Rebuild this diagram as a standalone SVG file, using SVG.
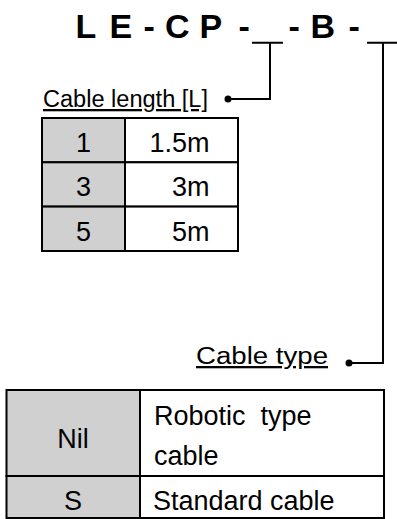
<svg xmlns="http://www.w3.org/2000/svg" width="397" height="519" viewBox="0 0 397 519">
<style>
.t{font-family:"Liberation Sans",Arial,sans-serif;fill:#000}
.title{font-size:34px;font-weight:bold}
.lbl{font-size:23px;text-decoration:underline}
.cell{font-size:27px}
.ln{stroke:#000;stroke-width:2;fill:none}
.key{fill:#d0d0d0;stroke:#000;stroke-width:2}
.val{fill:#fff;stroke:#000;stroke-width:2}
</style>
<rect width="397" height="519" fill="#fff"/>
<g id="title">
<text class="t title" y="38"><tspan x="75.5">L</tspan><tspan x="109.5">E</tspan><tspan x="143.5">-</tspan><tspan x="165">C</tspan><tspan x="199.5">P</tspan><tspan x="238.5">-</tspan><tspan x="288.5">-</tspan><tspan x="310.5">B</tspan><tspan x="348.5">-</tspan></text>
</g>
<g id="connectors">
<path class="ln" d="M252 42.7H283M270 42.7V99H228"/>
<circle cx="228" cy="99" r="3.5"/>
<path class="ln" d="M367 42.7H397M383 42.7V363H349"/>
<circle cx="349" cy="363" r="3.5"/>
</g>
<g id="cable-length">
<text class="t lbl" x="43" y="107" textLength="165" lengthAdjust="spacingAndGlyphs">Cable length [L]</text>
<rect class="key" x="42" y="118" width="83" height="44.3"/>
<rect class="val" x="125" y="118" width="113" height="44.3"/>
<rect class="key" x="42" y="162.3" width="83" height="44.3"/>
<rect class="val" x="125" y="162.3" width="113" height="44.3"/>
<rect class="key" x="42" y="206.6" width="83" height="44.4"/>
<rect class="val" x="125" y="206.6" width="113" height="44.4"/>
<text class="t cell" x="83.5" y="152" text-anchor="middle">1</text>
<text class="t cell" x="209.5" y="152" text-anchor="end">1.5m</text>
<text class="t cell" x="83.5" y="196.3" text-anchor="middle">3</text>
<text class="t cell" x="209.5" y="196.3" text-anchor="end">3m</text>
<text class="t cell" x="83.5" y="240.6" text-anchor="middle">5</text>
<text class="t cell" x="209.5" y="240.6" text-anchor="end">5m</text>
</g>
<g id="cable-type">
<text class="t lbl" x="196" y="364" textLength="132" lengthAdjust="spacingAndGlyphs">Cable type</text>
<rect class="key" x="6.5" y="390" width="133.5" height="86"/>
<rect class="val" x="140" y="390" width="244" height="86"/>
<rect class="key" x="6.5" y="476" width="133.5" height="42"/>
<rect class="val" x="140" y="476" width="244" height="42"/>
<text class="t cell" x="73" y="448" text-anchor="middle">Nil</text>
<text class="t cell" x="154" y="425" xml:space="preserve">Robotic  type</text>
<text class="t cell" x="154" y="465">cable</text>
<text class="t cell" x="73" y="510" text-anchor="middle">S</text>
<text class="t cell" x="153" y="510">Standard cable</text>
</g>
</svg>
